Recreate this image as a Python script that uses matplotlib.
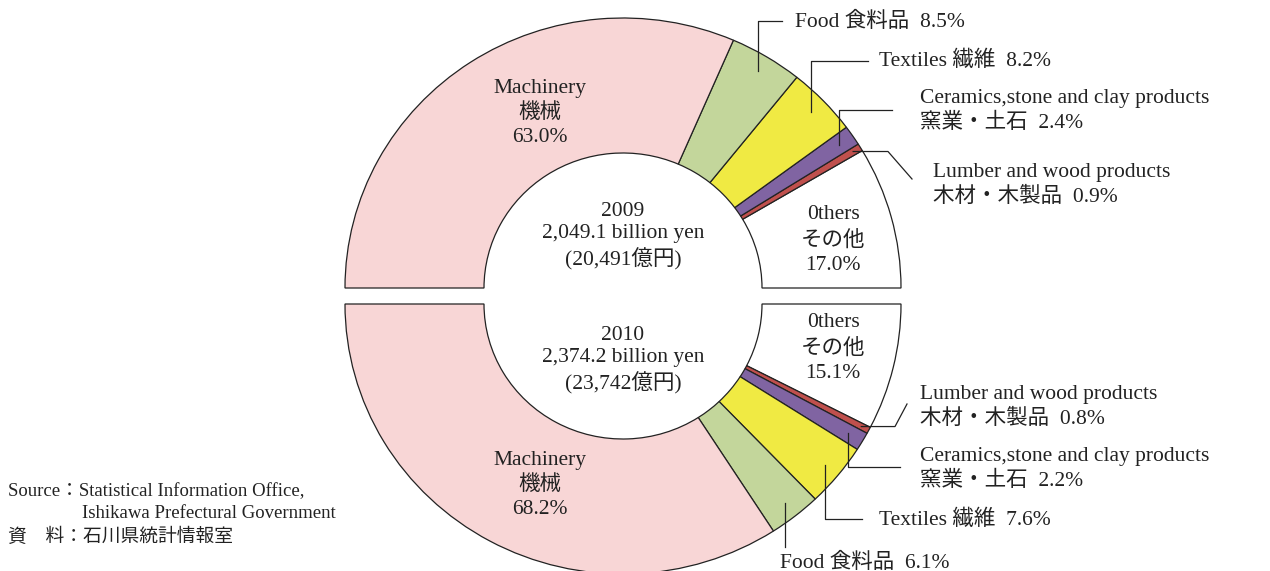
import numpy as np
import matplotlib
matplotlib.use("Agg")
import matplotlib.pyplot as plt

plt.rcParams['font.family'] = ['Liberation Serif', 'Noto Sans CJK JP']
plt.rcParams['font.size'] = 15.5

# shares in %, listed from the right (3 o'clock) outwards
categories = ['Others', 'Lumber', 'Ceramics', 'Textiles', 'Food', 'Machinery']
share_2009 = [17.0, 0.9, 2.4, 8.2, 8.5, 63.0]
share_2010 = [15.1, 0.8, 2.2, 7.6, 6.1, 68.2]
colors = ['white', '#C0504D', '#8064A2', '#F0EA43', '#C3D69B', '#F8D6D6']

total_2009 = ['2009', '2,049.1 billion yen', '(20,491億円)']
total_2010 = ['2010', '2,374.2 billion yen', '(23,742億円)']

# figure is laid out in pixels: x to the right, y downwards
W, H = 1270, 571
RX, RY = 278, 270          # the donut is slightly wider than tall
K = RX / RY


def P(x, y):
    return x, (H - y) * K


fig = plt.figure(figsize=(W / 100, H / 100), dpi=100)
ax = fig.add_axes([0, 0, 1, 1])

halves = [
    (share_2009, (623, 288), True),    # top half, counter-clockwise
    (share_2010, (623, 304), False),   # bottom half, clockwise
]
for vals, c, ccw in halves:
    wedges, _ = ax.pie(vals + [100], radius=RX, center=P(*c), startangle=0,
                       counterclock=ccw, colors=colors + ['none'],
                       wedgeprops=dict(width=RX / 2, edgecolor='#222222', linewidth=0.9),
                       frame=True)
    wedges[-1].set_visible(False)

ax.set_aspect('auto')
ax.set_xlim(0, W)
ax.set_ylim(0, H * K)
ax.axis('off')


def anchor(vals, idx, c, up, r=0.94):
    mid = (sum(vals[:idx]) + vals[idx] / 2) * 1.8
    a = np.radians(mid)
    x = c[0] + r * RX * np.cos(a)
    y = c[1] - r * RY * np.sin(a) if up else c[1] + r * RY * np.sin(a)
    return x, y


def leader(pts):
    xs, ys = zip(*[P(x, y) for x, y in pts])
    ax.plot(xs, ys, color='#222222', lw=0.9)


def label(x, y, s, **kw):
    ax.text(*P(x, y), s, ha=kw.pop('ha', 'left'), va='center', color='#222222',
            linespacing=kw.pop('linespacing', 1.38), **kw)


# ---- 2009 (top) callouts
c = halves[0][1]
x, y = anchor(share_2009, 4, c, True)
leader([(x, y), (x, 21), (782, 21)])
label(795, 22, 'Food 食料品  8.5%')
x, y = anchor(share_2009, 3, c, True)
leader([(x, y), (x, 61), (868, 61)])
label(879, 61, 'Textiles 繊維  8.2%')
x, y = anchor(share_2009, 2, c, True)
leader([(x, y), (x, 110), (892, 110)])
label(920, 111, 'Ceramics,stone and clay products\n窯業・土石  2.4%', linespacing=1.3)
x, y = anchor(share_2009, 1, c, True, r=0.97)
leader([(x, y), (888, y), (912, 179)])
label(933, 185, 'Lumber and wood products\n木材・木製品  0.9%', linespacing=1.3)

# ---- 2010 (bottom) callouts
c = halves[1][1]
x, y = anchor(share_2010, 1, c, False, r=0.97)
leader([(x, y), (895, y), (907, 404)])
label(920, 407, 'Lumber and wood products\n木材・木製品  0.8%', linespacing=1.3)
x, y = anchor(share_2010, 2, c, False)
leader([(x, y), (x, 467), (900, 467)])
label(920, 469, 'Ceramics,stone and clay products\n窯業・土石  2.2%', linespacing=1.3)
x, y = anchor(share_2010, 3, c, False)
leader([(x, y), (x, 519), (862, 519)])
label(879, 520, 'Textiles 繊維  7.6%')
x, y = anchor(share_2010, 4, c, False)
leader([(x, y), (x, 547)])
label(780, 563, 'Food 食料品  6.1%')

# ---- labels inside the ring
label(540, 113, 'Machinery\n機械\n%.1f%%' % share_2009[5], ha='center')
label(833, 240, '0thers\nその他\n%.1f%%' % share_2009[0], ha='center')
label(623, 236, '\n'.join(total_2009), ha='center', linespacing=1.25)
label(833, 348, '0thers\nその他\n%.1f%%' % share_2010[0], ha='center')
label(623, 360, '\n'.join(total_2010), ha='center', linespacing=1.25)
label(540, 485, 'Machinery\n機械\n%.1f%%' % share_2010[5], ha='center')

# ---- source
label(8, 492, 'Source：Statistical Information Office,', fontsize=13.5)
label(82, 514, 'Ishikawa Prefectural Government', fontsize=13.5)
label(8, 537, '資　料：石川県統計情報室', fontsize=13.5)

fig.savefig('out.png', dpi=100)
